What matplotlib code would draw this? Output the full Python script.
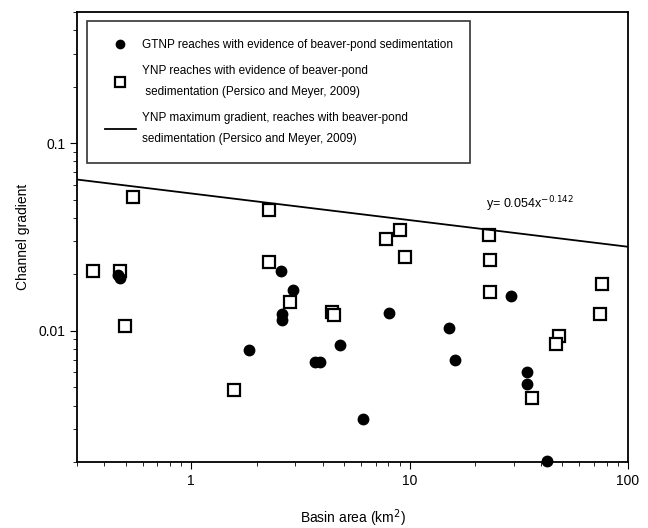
import numpy as np
import matplotlib
matplotlib.use("Agg")
import matplotlib.pyplot as plt
from matplotlib.ticker import FixedLocator, LogLocator, NullFormatter

plt.rcParams['font.family'] = ['Liberation Sans', 'DejaVu Sans']

# GTNP reaches (filled circles)
gtnp_area = [0.46, 0.47, 2.58, 2.93, 2.6, 2.6, 1.84, 3.7, 3.89, 4.81, 6.11,
             8.07, 15.2, 16.2, 29.2, 34.4, 34.4, 42.5]
gtnp_grad = [0.0198, 0.0192, 0.0208, 0.0166, 0.0123, 0.0114, 0.00794, 0.00683,
             0.00683, 0.00838, 0.0034, 0.0124, 0.0103, 0.00697, 0.0153,
             0.00604, 0.00524, 0.00202]

# YNP reaches (open squares, Persico and Meyer 2009)
ynp_area = [0.54, 2.27, 2.27, 0.353, 0.473, 0.499, 2.84, 1.57, 4.41, 4.5,
            7.76, 9.06, 9.51, 23.0, 23.4, 23.4, 75.9, 74.6, 48.6, 46.6, 36.2]
ynp_grad = [0.0517, 0.044, 0.0233, 0.0208, 0.0208, 0.0106, 0.0142, 0.00486,
            0.0126, 0.0121, 0.0307, 0.0347, 0.0248, 0.0324, 0.0238, 0.0161,
            0.0177, 0.0123, 0.00935, 0.00855, 0.0044]

# YNP maximum gradient fit
fit_coef = 0.054
fit_exp = -0.142

fig = plt.figure(figsize=(6.48, 5.28), dpi=100)
ax = fig.add_axes([0.119, 0.125, 0.850, 0.852])

xfit = np.array([0.3, 100])
yfit = fit_coef * xfit ** fit_exp

ax.plot(gtnp_area, gtnp_grad, 'o', color='black', markersize=7.5, clip_on=False,
        label='GTNP reaches with evidence of beaver-pond sedimentation', zorder=3)
ax.plot(ynp_area, ynp_grad, 's', markerfacecolor='white', markeredgecolor='black',
        markeredgewidth=1.6, markersize=9, clip_on=False,
        label='YNP reaches with evidence of beaver-pond\n sedimentation (Persico and Meyer, 2009)',
        zorder=2)
ax.plot(xfit, yfit, '-', color='black', linewidth=1.3,
        label='YNP maximum gradient, reaches with beaver-pond\nsedimentation (Persico and Meyer, 2009)')

ax.text(22.3, 0.045, r'y= 0.054x$^{-0.142}$', fontsize=9)

ax.set_xscale('log')
ax.set_yscale('log')
ax.set_xlim(0.3, 100)
ax.set_ylim(0.002, 0.5)

ax.xaxis.set_major_locator(FixedLocator([1, 10, 100]))
ax.set_xticklabels(['1', '10', '100'])
ax.yaxis.set_major_locator(FixedLocator([0.01, 0.1]))
ax.set_yticklabels(['0.01', '0.1'])
ax.xaxis.set_minor_locator(LogLocator(base=10, subs=np.arange(2, 10)))
ax.yaxis.set_minor_locator(LogLocator(base=10, subs=np.arange(2, 10)))
ax.xaxis.set_minor_formatter(NullFormatter())
ax.yaxis.set_minor_formatter(NullFormatter())
ax.tick_params(which='major', direction='out', length=5, labelsize=10)
ax.tick_params(which='minor', direction='out', length=3)

for s in ax.spines.values():
    s.set_linewidth(1.3)

ax.set_xlabel('Basin area (km$^2$)', fontsize=10, labelpad=14)
ax.set_ylabel('Channel gradient', fontsize=10, labelpad=6)

leg = ax.legend(loc='upper left', bbox_to_anchor=(0.012, 0.988), fontsize=8.5,
                frameon=True, fancybox=False, edgecolor='black', markerscale=0.8,
                handlelength=2.6, handletextpad=0.5, labelspacing=1.2,
                borderpad=1.5, borderaxespad=0.3)
leg.get_frame().set_linewidth(1.2)
for t in leg.get_texts():
    t.set_linespacing(2.0)

fig.savefig('out.png', dpi=100)
